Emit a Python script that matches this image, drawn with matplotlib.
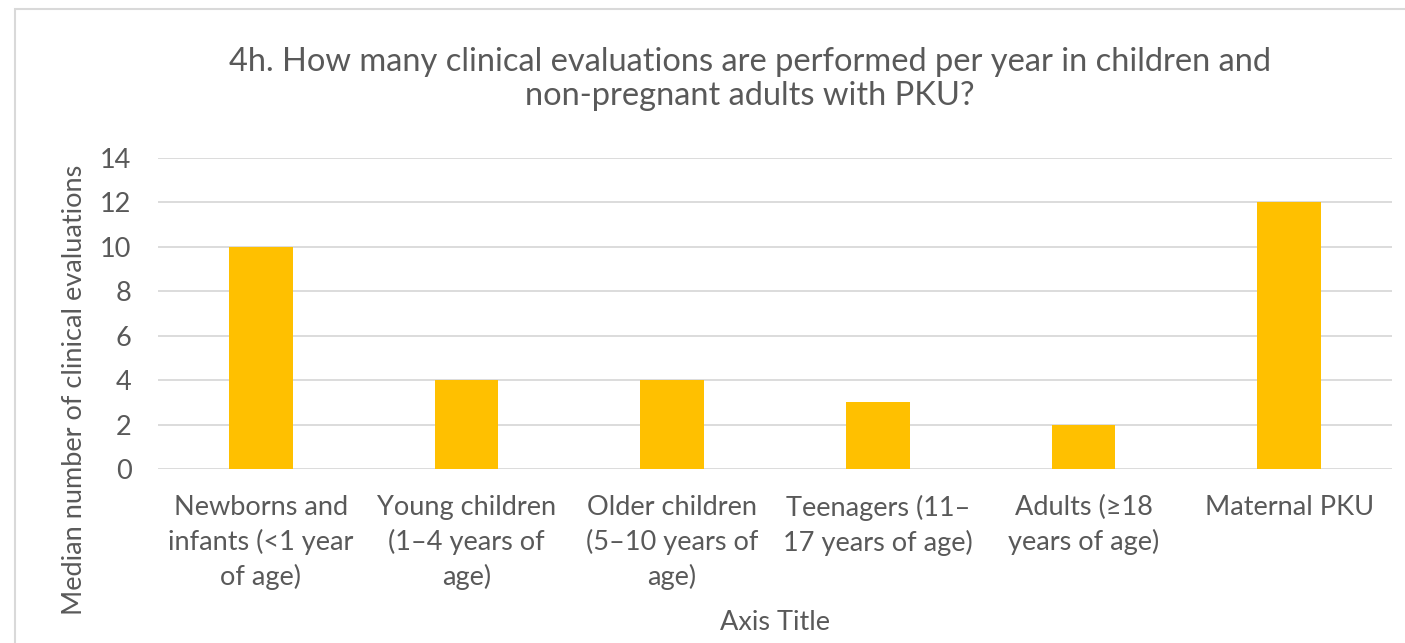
import matplotlib.pyplot as plt
from matplotlib.patches import Rectangle

categories = ['Newborns and\ninfants (<1 year\nof age)', 'Young children\n(1\u20134 years of\nage)',
              'Older children\n(5\u201310 years of\nage)', 'Teenagers (11\u2013\n17 years of age)',
              'Adults (\u226518\nyears of age)', 'Maternal PKU']
values = [10, 4, 4, 3, 2, 12]

plt.rcParams['font.family'] = ['Lato', 'DejaVu Sans']
txt = '#595959'

fig = plt.figure(figsize=(14.05, 6.43), dpi=100)
ax = fig.add_axes([158/1405, 1-469/643, (1392-158)/1405, (469-158)/643])

x = range(len(values))
ax.bar(x, values, width=0.31, color='#FFC000', zorder=3)
ax.set_xlim(-0.5, len(values)-0.5)
ax.set_ylim(0, 14)
ax.set_yticks(range(0, 15, 2))
ax.set_xticks(list(x))
ax.set_xticklabels(categories, fontsize=19.5, color=txt, linespacing=1.42, va='top')
ax.tick_params(axis='y', labelsize=19.5, labelcolor=txt, length=0, pad=19)
ax.tick_params(axis='x', length=0, pad=19)
ax.grid(axis='y', color='#D9D9D9', linewidth=1.3, zorder=0)
for s in ax.spines.values():
    s.set_visible(False)

fig.text(750/1405, 1-79/643, '4h. How many clinical evaluations are performed per year in children and\nnon-pregnant adults with PKU?',
         ha='center', va='center', fontsize=23.5, color=txt, linespacing=1.2)
fig.text(75/1405, 1-390/643, 'Median number of clinical evaluations', rotation=90,
         ha='center', va='center', fontsize=19.5, color=txt)
fig.text(775/1405, 1-622/643, 'Axis Title', ha='center', va='center', fontsize=19.5, color=txt)

fig.patches.append(Rectangle((15/1405, -0.1), 1.2, 1.1 - 9/643, transform=fig.transFigure,
                             fill=False, edgecolor='#D9D9D9', linewidth=1.5))

plt.savefig('out.png', dpi=100)
